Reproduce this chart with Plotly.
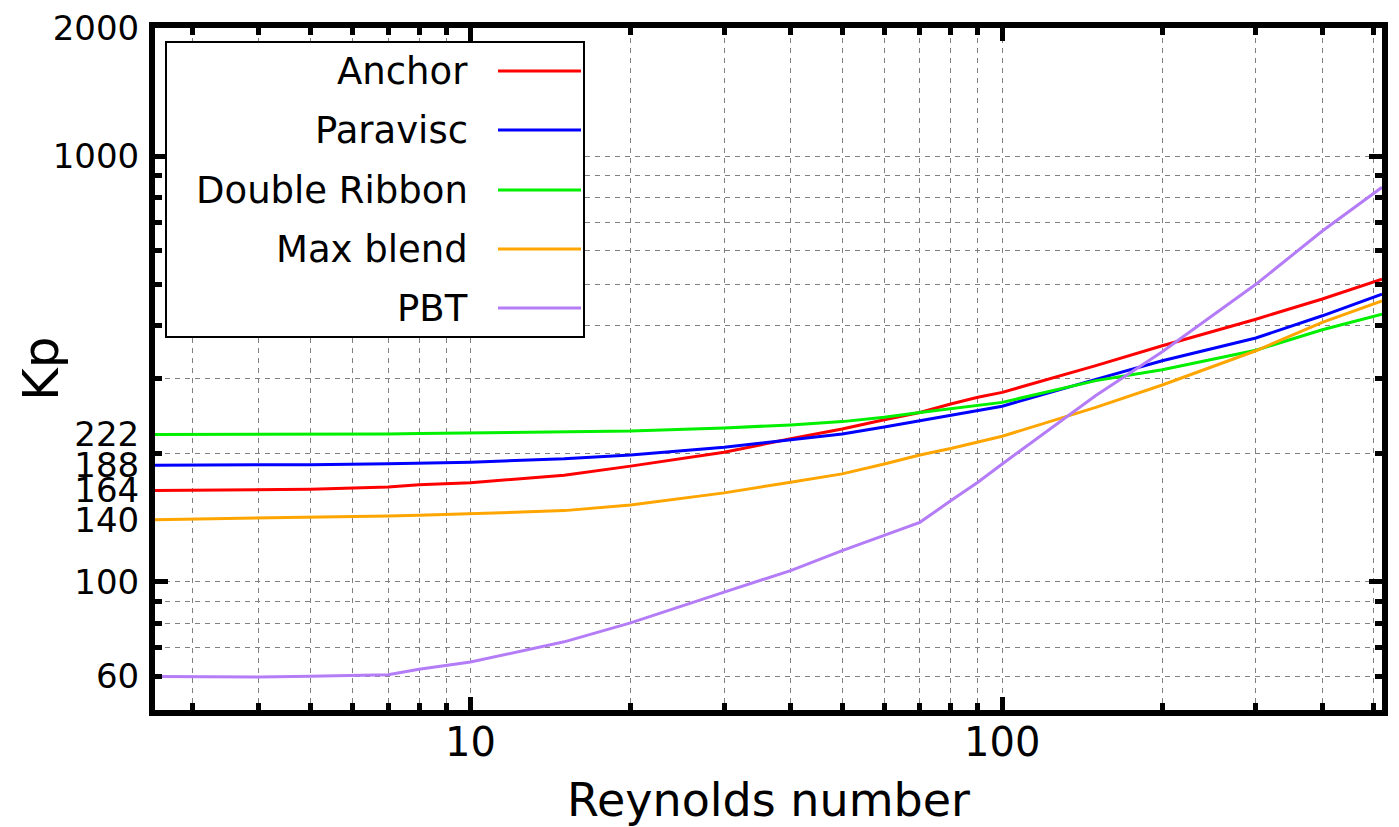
import math
import plotly.graph_objects as go

# ---------------- data ----------------
reynolds = [2.55, 4, 5, 7, 8, 10, 15, 20, 30, 40, 50, 60, 70, 80, 90, 100, 150, 200, 300, 400, 518]

anchor = [164, 164.5, 165, 167, 169, 171, 178, 187, 201.6, 216.8, 228.6, 240.2, 250, 261.6, 271.3,
          278.7, 322, 358.6, 414, 461.7, 514]
paravisc = [188, 188, 188.5, 189.5, 190, 191, 194.5, 198.6, 207.1, 215.8, 222.6, 231, 239, 246.7, 252.6,
            258.6, 299, 330.7, 374, 421.7, 474]
double_ribbon = [222, 222, 222, 222.5, 223, 223.5, 224.7, 226, 229.9, 233.7, 237.9, 243.7, 250, 255.3, 259.5,
                 264, 297, 315, 350, 391, 425.6]
max_blend = [140, 141, 142, 142.8, 143.3, 144.4, 147, 151.6, 161.8, 171.4, 179.3, 189.2, 198.6, 205.7, 212.8,
             219.8, 257, 290, 349, 407, 457]
pbt = [59.9, 59.8, 60, 60.5, 62.3, 64.8, 72.3, 80.1, 94.6, 106.3, 118.4, 128.4, 138, 155, 171.4,
       189.2, 274, 347, 500, 667, 845]

series_names = ["Anchor", "Paravisc", "Double Ribbon", "Max blend", "PBT"]
series_values = [anchor, paravisc, double_ribbon, max_blend, pbt]
series_colors = ["#ff0000", "#0000ff", "#00f000", "#ffa500", "#b47cf7"]

y_tick_values = [60, 100, 140, 164, 188, 222, 1000, 2000]
y_tick_labels = ["60", "100", "140", "164", "188", "222", "1000", "2000"]
y_grid_values = [60, 70, 80, 90, 100, 200, 300, 400, 500, 600, 700, 800, 900, 1000]
y_major_ticks = [100, 1000]
x_tick_values = [10, 100]
x_tick_labels = ["10", "100"]
x_minor_values = [3, 4, 5, 6, 7, 8, 9, 20, 30, 40, 50, 60, 70, 80, 90, 200, 300, 400, 500]

x_range = [math.log10(2.55), math.log10(518)]
y_range = [math.log10(50), math.log10(2000)]

# ---------------- figure ----------------
W, H = 1399, 827
L, R, T, B = 155, 17, 28, 117
FONT = "DejaVu Sans"

fig = go.Figure()
for name, vals, col in zip(series_names, series_values, series_colors):
    fig.add_trace(go.Scatter(x=reynolds, y=vals, mode="lines", name=name,
                             line=dict(color=col, width=3), showlegend=False))

# invisible trace to hold the overlay axes
fig.add_trace(go.Scatter(x=[reynolds[0]], y=[pbt[0]], xaxis="x2", yaxis="y2",
                         mode="markers", marker=dict(opacity=0), showlegend=False,
                         hoverinfo="skip"))

grid_style = dict(gridcolor="#808080", gridwidth=1, griddash="5px,5px")

fig.update_layout(
    width=W, height=H,
    margin=dict(l=L, r=R, t=T, b=B, autoexpand=False),
    paper_bgcolor="white", plot_bgcolor="white",
    font=dict(family=FONT, color="black"),
    xaxis=dict(
        type="log", range=x_range, automargin=False,
        tickvals=x_tick_values, ticktext=x_tick_labels,
        ticks="inside", ticklen=13, tickwidth=5, tickcolor="black",
        showline=True, linewidth=6, linecolor="black", mirror="ticks",
        showgrid=True, **grid_style,
        tickfont=dict(size=40, family=FONT),
        ticklabelstandoff=-8,
        title=dict(text="Reynolds number", font=dict(size=46, family=FONT), standoff=22),
        minor=dict(tickvals=x_minor_values, ticks="inside", ticklen=7, tickwidth=5,
                   tickcolor="black", showgrid=True, **grid_style),
        zeroline=False,
    ),
    yaxis=dict(
        type="log", range=y_range, automargin=False,
        tickvals=y_tick_values, ticktext=y_tick_labels,
        ticks="", showgrid=False,
        showline=True, linewidth=6, linecolor="black", mirror="ticks",
        tickfont=dict(size=34, family=FONT),
        ticklabelstandoff=3,
        minor=dict(tickvals=y_grid_values, ticks="inside", ticklen=7, tickwidth=5,
                   tickcolor="black", showgrid=True, **grid_style),
        zeroline=False,
    ),
    xaxis2=dict(type="log", range=x_range, overlaying="x", anchor="y", automargin=False,
                showticklabels=False, ticks="", showgrid=False, showline=False,
                zeroline=False),
    yaxis2=dict(type="log", range=y_range, overlaying="y", anchor="x", automargin=False,
                tickvals=y_major_ticks, showticklabels=False,
                ticks="inside", ticklen=13, tickwidth=5, tickcolor="black",
                mirror="ticks", showgrid=False, showline=False, zeroline=False),
)

pw, ph = W - L - R, H - T - B
def px(xp):
    return (xp - L) / pw
def py(yp):
    return (H - B - yp) / ph

# y-axis title (gnuplot places it close to the tick labels)
fig.add_annotation(xref="paper", yref="paper", x=px(41), y=py(369), text="Kp",
                   textangle=-90, showarrow=False, xanchor="center", yanchor="middle",
                   font=dict(size=50, family=FONT, color="black"))

# ---------------- manual gnuplot-style legend (text left, line sample right) ----------------
fig.add_shape(type="rect", xref="paper", yref="paper",
              x0=px(166), x1=px(584), y0=py(337), y1=py(42),
              line=dict(color="black", width=2), fillcolor="white", layer="above")
row_y = [71, 130, 190, 249, 308]
for name, col, yy in zip(series_names, series_colors, row_y):
    fig.add_annotation(xref="paper", yref="paper", x=px(470), y=py(yy),
                       text=name, showarrow=False, xanchor="right", yanchor="middle",
                       font=dict(size=37, family=FONT, color="black"))
    fig.add_shape(type="line", xref="paper", yref="paper",
                  x0=px(498), x1=px(581), y0=py(yy), y1=py(yy),
                  line=dict(color=col, width=3), layer="above")

fig.write_html("out.html")
